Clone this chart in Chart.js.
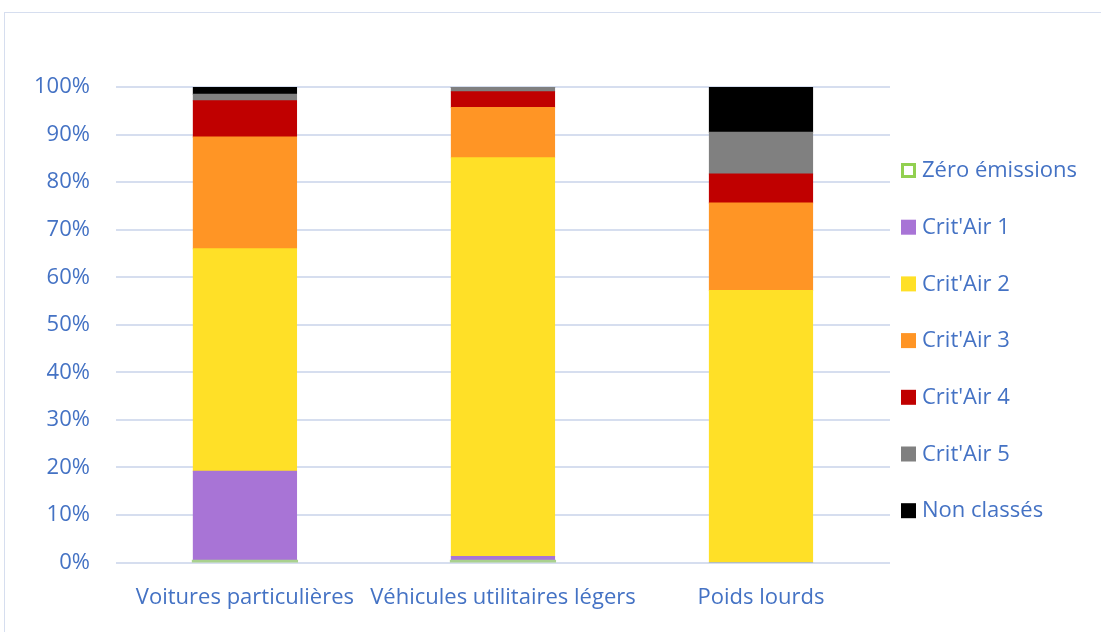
<!DOCTYPE html>
<html>
<head>
<meta charset="utf-8">
<script src="https://cdn.jsdelivr.net/npm/chart.js@4"></script>
<style>
  html, body { margin: 0; padding: 0; background: #fff; }
  #wrap { position: relative; width: 1101px; height: 632px; overflow: hidden; }
  #frame { position: absolute; left: 4px; top: 12px; width: 1200px; height: 700px; border: 1px solid #D6DEEF; }
  #chart { position: absolute; left: 0; top: 0; }
</style>
</head>
<body>
<div id="wrap">
  <div id="frame"></div>
  <canvas id="chart" width="1101" height="632"></canvas>
</div>
<script>
// Répartition du parc par vignette Crit'Air (en %)
const categories = ['Voitures particulières', 'Véhicules utilitaires légers', 'Poids lourds'];
const seriesNames = ['Zéro émissions', "Crit'Air 1", "Crit'Air 2", "Crit'Air 3", "Crit'Air 4", "Crit'Air 5", 'Non classés'];
const zeroEmissions = [0.3, 0.3, 0.0];
const critAir1 = [18.9, 1.0, 0.0];
const critAir2 = [46.8, 83.8, 57.2];
const critAir3 = [23.5, 10.6, 18.4];
const critAir4 = [7.6, 3.3, 6.1];
const critAir5 = [1.4, 0.9, 8.8];
const nonClasses = [1.5, 0.1, 9.5];
const yTicks = [0, 10, 20, 30, 40, 50, 60, 70, 80, 90, 100];

const txt = '#4472C4';
const font = { family: "'Open Sans', 'Noto Sans', sans-serif", size: 22 };

const values = [zeroEmissions, critAir1, critAir2, critAir3, critAir4, critAir5, nonClasses];
const fills = ['#A9D18E', '#A874D6', '#FFE027', '#FF9525', '#C00000', '#808080', '#000000'];

const datasets = seriesNames.map((name, i) => ({
  label: name,
  data: values[i],
  backgroundColor: fills[i],
  borderWidth: 0,
  inflateAmount: c => (i === 0 && c.raw > 0) ? 1.5 : 0.5,
  barPercentage: 0.4,
  categoryPercentage: 1.0
}));

// légende dessinée à droite, comme dans Excel
const sideLegend = {
  id: 'sideLegend',
  afterDraw(chart) {
    const ctx = chart.ctx;
    ctx.save();
    ctx.font = `${font.size}px ${font.family}`;
    ctx.textBaseline = 'middle';
    chart.data.datasets.forEach((d, i) => {
      const y = 170 + i * 56.7;
      const x = 901;
      if (i === 0) {
        ctx.fillStyle = '#fff';
        ctx.fillRect(x, y - 7, 15, 15);
        ctx.strokeStyle = '#92D050';
        ctx.lineWidth = 3;
        ctx.strokeRect(x + 1.5, y - 5.5, 12, 12);
      } else {
        ctx.fillStyle = d.backgroundColor;
        ctx.fillRect(x, y - 7, 15, 15);
      }
      ctx.fillStyle = txt;
      ctx.fillText(d.label, x + 21, y + 1);
    });
    ctx.restore();
  }
};

new Chart(document.getElementById('chart'), {
  type: 'bar',
  data: { labels: categories, datasets },
  options: {
    responsive: false,
    animation: false,
    layout: { padding: { top: 87, bottom: 7, left: 8, right: 211 } },
    plugins: {
      tooltip: { enabled: false },
      legend: { display: false }
    },
    scales: {
      x: {
        stacked: true,
        grid: { display: false },
        border: { display: false },
        ticks: { color: txt, font, padding: 14, maxRotation: 0, autoSkip: false }
      },
      y: {
        stacked: true,
        min: 0, max: 100,
        afterBuildTicks: axis => { axis.ticks = yTicks.map(v => ({ value: v })); },
        grid: { color: '#D6DEEF', lineWidth: 2, drawTicks: false },
        border: { display: false },
        ticks: { color: txt, font, padding: 26, callback: v => v + '%' }
      }
    }
  },
  plugins: [sideLegend]
});
</script>
</body>
</html>
